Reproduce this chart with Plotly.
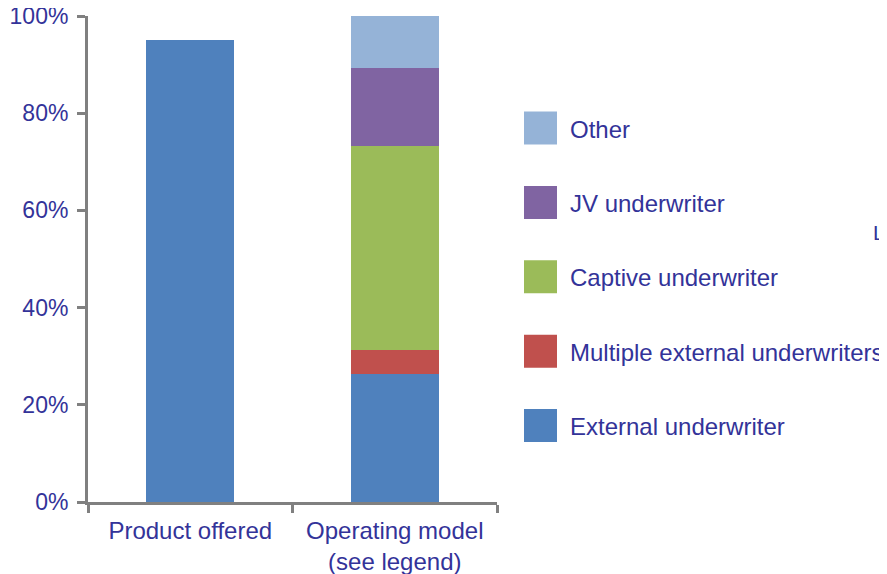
import plotly.graph_objects as go

# ------------------Data------------------#
categories = ["Product offered", "Operating model<br>(see legend)"]
product_offered = [95.0, None]

series_names = ["External underwriter", "Multiple external underwriters",
                "Captive underwriter", "JV underwriter", "Other"]
external = [None, 26.3]
multiple_external = [None, 4.9]
captive = [None, 42.1]
jv = [None, 16.0]
other = [None, 10.7]
series_values = [external, multiple_external, captive, jv, other]
series_colors = ["#4F81BD", "#C0504D", "#9BBB59", "#8064A2", "#95B3D7"]

text_color = "#333399"
axis_color = "#808080"

# the page body adds an 8px offset, so work in page pixels and shift
OFF = 8
W, H = 887 - OFF, 574 - OFF
L, R, T, B = 88 - OFF, 497 - OFF, 16 - OFF, 502 - OFF

def px_x(x):
    return (x - OFF - L) / (R - L)

def px_y(y):
    return (B - (y - OFF)) / (B - T)

fig = go.Figure()
fig.add_trace(go.Bar(x=categories, y=product_offered, name="Product offered",
                     marker=dict(color="#4F81BD", line=dict(width=0)),
                     width=0.43, showlegend=False))
for name, vals, col in zip(series_names, series_values, series_colors):
    fig.add_trace(go.Bar(x=categories, y=vals, name=name,
                         marker=dict(color=col, line=dict(width=0)),
                         width=0.43, showlegend=False))

# manual legend (big squares, wide spacing), top item = last series
legend_top = 129
legend_step = 74.4
for i, (name, col) in enumerate(zip(series_names[::-1], series_colors[::-1])):
    cy = legend_top + i * legend_step
    fig.add_shape(type="rect", xref="paper", yref="paper",
                  x0=px_x(524), x1=px_x(557), y0=px_y(cy - 1 + 16.5), y1=px_y(cy - 1 - 16.5),
                  fillcolor=col, line=dict(width=0))
    fig.add_annotation(x=px_x(568), y=px_y(cy), xref="paper", yref="paper",
                       text=name, showarrow=False, xanchor="left", yanchor="middle",
                       font=dict(size=24, color=text_color))

# stray text at the right edge
fig.add_annotation(x=px_x(887), y=px_y(232), xref="paper", yref="paper",
                   text="L", showarrow=False, xanchor="right", yanchor="middle",
                   font=dict(size=21, color=text_color))

fig.update_layout(
    barmode="stack",
    width=W, height=H,
    margin=dict(l=L, r=W - R, t=T, b=H - B, pad=0),
    plot_bgcolor="white",
    paper_bgcolor="white",
    font=dict(family="Liberation Sans, Arial, sans-serif", size=24, color=text_color),
    showlegend=False,
)
fig.update_xaxes(range=[-0.5, 1.5], showline=True, linecolor=axis_color, linewidth=3,
                 ticks="outside", tickson="boundaries", ticklen=8, tickwidth=3,
                 tickcolor=axis_color, showgrid=False, zeroline=False, automargin=False,
                 ticklabelstandoff=5, ticklabeloverflow="allow",
                 tickfont=dict(size=24, color=text_color))
fig.update_yaxes(range=[0, 100], showline=True, linecolor=axis_color, linewidth=3,
                 ticks="outside", ticklen=8, tickwidth=3, tickcolor=axis_color,
                 dtick=20, ticksuffix="%", showgrid=False, zeroline=False, automargin=False,
                 ticklabelstandoff=4, ticklabeloverflow="allow",
                 tickfont=dict(size=23, color=text_color))

fig.write_html("out.html")
